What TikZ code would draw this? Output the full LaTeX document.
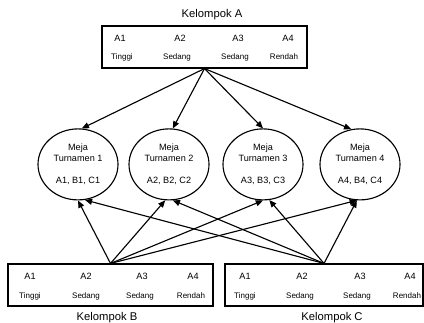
\documentclass[tikz,border=0pt]{standalone}
\usepackage{fontspec}
\setmainfont{Liberation Sans}
\usetikzlibrary{shapes,arrows.meta,positioning}

\begin{document}
\begin{tikzpicture}[
  kotak/.style={rectangle, draw, line width=0.8pt, minimum height=1.05cm, inner sep=0pt},
  meja/.style={ellipse, draw, line width=0.8pt, minimum width=2cm, minimum height=1.775cm, inner sep=0pt, align=center, font=\fontsize{6.5}{7.8}\selectfont},
  judul/.style={font=\fontsize{8}{9.6}\selectfont},
  kode/.style={font=\fontsize{6.5}{7.8}\selectfont},
  level/.style={font=\fontsize{5.7}{7}\selectfont},
  arr/.style={-{Triangle[length=1.8mm, width=1.5mm]}, line width=0.8pt}
]
  \useasboundingbox (0,0) rectangle (10.6,8.05);

  % kelompok asal
  \node[judul] (ttlA) at (5.3,7.675) {Kelompok A};
  \node[kotak, minimum width=5.125cm] (grpA) at (5.1125,6.875) {};
  \node[kotak, minimum width=5.125cm] (grpB) at (2.7625,0.925) {};
  \node[kotak, minimum width=4.95cm] (grpC) at (8.1,0.925) {};
  \node[judul, anchor=base] (ttlB) at (2.675,0.04) {Kelompok B};
  \node[judul, anchor=base] (ttlC) at (8.3,0.04) {Kelompok C};

  % isi kotak
  \foreach \g/\xa/\xb/\xc/\xd/\ya in {A/3.0/4.5/5.95/7.2/7.1, B/0.75/2.15/3.55/4.825/1.15, C/6.125/7.55/9.0/10.25/1.15}{
    \node[kode] (\g a1) at (\xa,\ya) {A1};
    \node[kode] (\g a2) at (\xb,\ya) {A2};
    \node[kode] (\g a3) at (\xc,\ya) {A3};
    \node[kode] (\g a4) at (\xd,\ya) {A4};
  }
  \foreach \g/\xa/\xb/\xc/\xd/\ya in {A/3.05/4.425/5.875/7.1/6.625, B/0.75/2.15/3.5/4.775/0.65, C/6.125/7.5/8.925/10.175/0.65}{
    \node[level] (\g l1) at (\xa,\ya) {Tinggi};
    \node[level] (\g l2) at (\xb,\ya) {Sedang};
    \node[level] (\g l3) at (\xc,\ya) {Sedang};
    \node[level] (\g l4) at (\xd,\ya) {Rendah};
  }

  % meja turnamen
  \node[meja] (t1) at (1.95,3.94) {Meja\\Turnamen 1\\[7.8pt]A1, B1, C1};
  \node[meja] (t2) at (4.225,3.94) {Meja\\Turnamen 2\\[7.8pt]A2, B2, C2};
  \node[meja] (t3) at (6.575,3.94) {Meja\\Turnamen 3\\[7.8pt]A3, B3, C3};
  \node[meja] (t4) at (9.0,3.94) {Meja\\Turnamen 4\\[7.8pt]A4, B4, C4};

  \draw[arr] (grpA.south) -- (t1.84);
  \draw[arr] (grpA.south) -- (t2.84);
  \draw[arr] (grpA.south) -- (t3.90);
  \draw[arr] (grpA.south) -- (t4.104);

  \draw[arr] (grpB.north) -- (t1.-90);
  \draw[arr] (grpB.north) -- (t2.-96);
  \draw[arr] (grpB.north) -- (t3.-90);
  \draw[arr] (grpB.north) -- (t4.-95);

  \draw[arr] (grpC.north) -- (t1.-79);
  \draw[arr] (grpC.north) -- (t2.-84);
  \draw[arr] (grpC.north) -- (t3.-80);
  \draw[arr] (grpC.north) -- (t4.-95);
\end{tikzpicture}
\end{document}
